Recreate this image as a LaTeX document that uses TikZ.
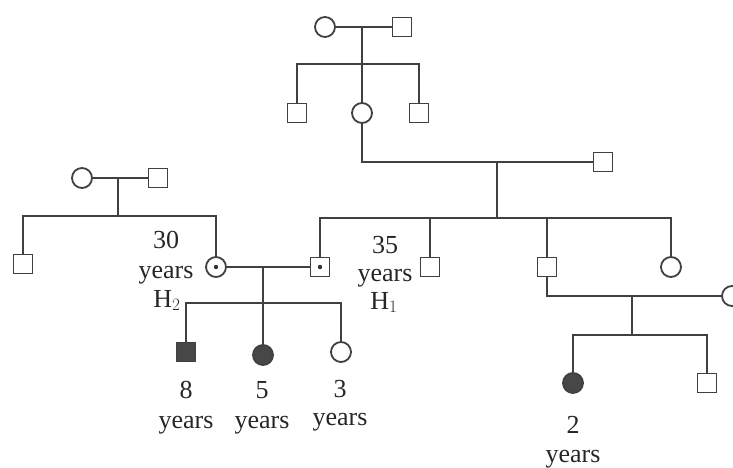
\documentclass[tikz,border=0pt]{standalone}
\usepackage{fontspec}
\setmainfont{Liberation Serif}
\begin{document}
\begin{tikzpicture}[x=1pt,y=-1pt,
  ln/.style={line width=1.8pt, draw=black!75},
  male/.style={rectangle, draw=black!75, line width=1.8pt, minimum size=19pt, inner sep=0pt, fill=white},
  female/.style={circle, draw=black!75, line width=1.8pt, minimum size=20pt, inner sep=0pt, fill=white},
  aff/.style={fill=black!72},
  carrier/.style={path picture={\fill[black!80] (path picture bounding box.center) circle (2.2pt);}},
  lbl/.style={font=\fontsize{26}{30}\selectfont, text=black!85, anchor=base, inner sep=0pt}
]
\useasboundingbox (0,0) rectangle (733,467);
% generation I (top)
\node[female] (I1) at (325,27) {};
\node[male] (I2) at (402,27) {};
\coordinate (m1) at (362,27);
\coordinate (s1) at (362,64);
\node[male] (II1) at (297,113) {};
\node[female] (II2) at (362,113) {};
\node[male] (II3) at (419,113) {};
\node[male] (II4) at (603,162) {};
\coordinate (m2) at (497,162);
\coordinate (s2) at (497,218);
% left grandparents
\node[female] (A1) at (82,178) {};
\node[male] (A2) at (158,178) {};
\coordinate (m3) at (118,178);
\coordinate (s3) at (118,216);
\node[male] (B1) at (23,264) {};
\node[female,carrier] (III2) at (216,267) {};
% generation III
\node[male,carrier] (III3) at (320,267) {};
\node[male] (III4) at (430,267) {};
\node[male] (III5) at (547,267) {};
\node[female] (III6) at (671,267) {};
\node[female] (III7) at (732,296) {};
\coordinate (m4) at (263,267);
\coordinate (s4) at (263,303);
\coordinate (m5) at (632,296);
\coordinate (s5) at (632,335);
% generation IV
\node[male,aff] (IV1) at (186,352) {};
\node[female,aff] (IV2) at (263,355) {};
\node[female] (IV3) at (341,352) {};
\node[female,aff] (IV4) at (573,383) {};
\node[male] (IV5) at (707,383) {};
% connectors
\draw[ln] (I1) -- (I2);
\draw[ln] (m1) -- (s1);
\draw[ln] (II1.north) |- (s1) -| (II3.north);
\draw[ln] (s1) -- (II2.north);
\draw[ln] (II2.south) |- (II4.west);
\draw[ln] (m2) -- (s2);
\draw[ln] (III3.north) |- (s2) -| (III6.north);
\draw[ln] (III4.north) -- (III4.north |- s2);
\draw[ln] (III5.north) -- (III5.north |- s2);
\draw[ln] (A1) -- (A2);
\draw[ln] (m3) -- (s3);
\draw[ln] (B1.north) |- (s3) -| (III2.north);
\draw[ln] (III2) -- (III3);
\draw[ln] (m4) -- (s4);
\draw[ln] (IV1.north) |- (s4) -| (IV3.north);
\draw[ln] (s4) -- (IV2.north);
\draw[ln] (III5.south) |- (III7.west);
\draw[ln] (m5) -- (s5);
\draw[ln] (IV4.north) |- (s5) -| (IV5.north);
% labels
\node[lbl] (t30) at (166,248) {30};
\node[lbl] (t30y) at (166,278) {years};
\node[lbl] (tH2) at (167,307) {H$_2$};
\node[lbl] (t35) at (385,253) {35};
\node[lbl] (t35y) at (385,281) {years};
\node[lbl] (tH1) at (384,309) {H$_1$};
\node[lbl] (t8) at (186,398) {8};
\node[lbl] (t8y) at (186,428) {years};
\node[lbl] (t5) at (262,398) {5};
\node[lbl] (t5y) at (262,428) {years};
\node[lbl] (t3) at (340,397) {3};
\node[lbl] (t3y) at (340,425) {years};
\node[lbl] (t2) at (573,433) {2};
\node[lbl] (t2y) at (573,462) {years};
\end{tikzpicture}
\end{document}
